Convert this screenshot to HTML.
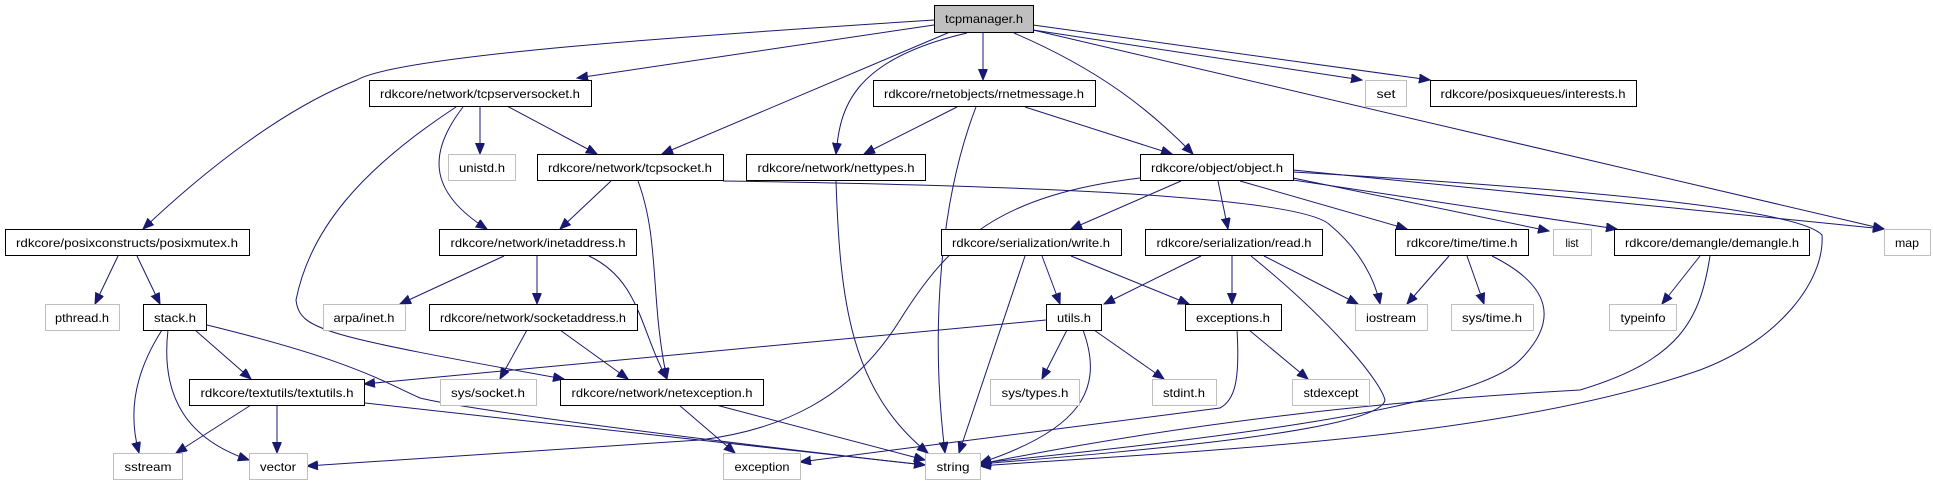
<!DOCTYPE html>
<html><head><meta charset="utf-8"><style>
html,body{margin:0;padding:0;background:#fff;}
svg{display:block;}
text{font-family:"Liberation Sans",sans-serif;font-size:12px;fill:#000;}
</style></head><body>
<svg width="1933" height="485" viewBox="0 0 1933 485" xmlns="http://www.w3.org/2000/svg">
<defs>
<marker id="a" markerUnits="userSpaceOnUse" markerWidth="12" markerHeight="10" refX="11" refY="4.5" orient="auto">
<path d="M0,0 L11,4.5 L0,9 z" fill="#191970" stroke="#191970"/>
</marker>
</defs>
<g fill="none" stroke="#191970" stroke-width="1" marker-end="url(#a)">
<path d="M934,20 C700,35 400,55 357,80 C280,110 200,175 143,229"/>
<path d="M934,25 L577,78"/>
<path d="M950,32 L662,154"/>
<path d="M967,33 C850,60 840,110 836,154"/>
<path d="M983,32 L983,80"/>
<path d="M1014,33 C1100,70 1150,110 1193,154"/>
<path d="M1033,30 L1362,80"/>
<path d="M1033,25 L1430,80"/>
<path d="M1033,30 L1884,229"/>
<path d="M480,106 L480,154"/>
<path d="M507,106 L597,154"/>
<path d="M463,107 C430,150 425,190 487,229"/>
<path d="M456,107 C360,170 310,230 296,300 C300,330 320,335 564,379"/>
<path d="M611,181 L560,229"/>
<path d="M638,181 C660,240 650,300 667,379"/>
<path d="M723,181 C1000,185 1300,195 1330,225 C1360,250 1375,280 1380,304"/>
<path d="M836,181 C840,300 850,390 928,453"/>
<path d="M957,107 L864,154"/>
<path d="M976,107 C940,200 930,330 945,453"/>
<path d="M1025,107 L1172,154"/>
<path d="M1140,178 C1000,195 950,240 900,320 C850,400 780,430 700,440 L307,466"/>
<path d="M1181,181 L1071,229"/>
<path d="M1218,181 L1228,229"/>
<path d="M1240,181 L1407,229"/>
<path d="M1293,178 L1549,231"/>
<path d="M1293,180 L1617,229"/>
<path d="M1293,170 L1884,229"/>
<path d="M1293,172 C1600,190 1800,210 1822,235 C1825,280 1780,340 1700,370 C1500,440 1200,450 980,466"/>
<path d="M1025,256 L959,453"/>
<path d="M1042,256 L1060,304"/>
<path d="M1071,256 L1189,304"/>
<path d="M1201,256 L1104,304"/>
<path d="M1232,256 L1232,304"/>
<path d="M1264,256 L1358,304"/>
<path d="M1251,256 C1330,320 1380,380 1385,400 C1380,430 1150,450 980,464"/>
<path d="M1046,320 L364,384"/>
<path d="M1067,330 L1042,379"/>
<path d="M1094,330 L1164,379"/>
<path d="M1083,330 C1105,390 1080,430 980,463"/>
<path d="M1249,330 L1308,379"/>
<path d="M1237,330 C1240,380 1235,400 1220,408 L800,462"/>
<path d="M1449,256 L1407,304"/>
<path d="M1467,256 L1484,304"/>
<path d="M1492,256 C1550,285 1560,320 1520,360 C1470,410 1200,440 980,463"/>
<path d="M1700,256 L1662,304"/>
<path d="M1710,256 C1700,320 1680,360 1580,390 C1400,400 1200,420 980,464"/>
<path d="M118,256 L95,304"/>
<path d="M137,256 L160,304"/>
<path d="M162,330 C130,380 130,420 139,453"/>
<path d="M168,330 C160,400 190,440 249,460"/>
<path d="M195,330 L251,379"/>
<path d="M207,325 C350,360 380,380 420,398 C470,410 700,440 925,465"/>
<path d="M504,256 L400,304"/>
<path d="M537,256 L537,304"/>
<path d="M589,256 C640,280 640,330 667,379"/>
<path d="M527,330 L500,379"/>
<path d="M560,330 L628,379"/>
<path d="M251,405 L176,453"/>
<path d="M277,405 L277,453"/>
<path d="M365,403 L925,465"/>
<path d="M679,405 L735,453"/>
<path d="M716,405 L925,460"/>
</g>
<g stroke-width="1">
<rect x="934.5" y="5.5" width="99" height="27" fill="#bfbfbf" stroke="#000"/>
<g fill="#fff" stroke="#000">
<rect x="369.5" y="80.5" width="222" height="26"/>
<rect x="873.5" y="80.5" width="222" height="26"/>
<rect x="1430.5" y="80.5" width="206" height="26"/>
<rect x="537.5" y="154.5" width="186" height="26"/>
<rect x="746.5" y="154.5" width="179" height="26"/>
<rect x="1140.5" y="154.5" width="153" height="26"/>
<rect x="5.5" y="229.5" width="244" height="26"/>
<rect x="439.5" y="229.5" width="197" height="26"/>
<rect x="941.5" y="229.5" width="180" height="26"/>
<rect x="1145.5" y="229.5" width="177" height="26"/>
<rect x="1395.5" y="229.5" width="133" height="26"/>
<rect x="1614.5" y="229.5" width="195" height="26"/>
<rect x="143.5" y="304.5" width="63" height="26"/>
<rect x="429.5" y="304.5" width="208" height="26"/>
<rect x="1046.5" y="304.5" width="55" height="26"/>
<rect x="1185.5" y="304.5" width="96" height="26"/>
<rect x="189.5" y="379.5" width="175" height="26"/>
<rect x="560.5" y="379.5" width="203" height="26"/>
</g>
<g fill="#fff" stroke="#bfbfbf">
<rect x="1365.5" y="80.5" width="41" height="26"/>
<rect x="448.5" y="154.5" width="67" height="26"/>
<rect x="1553.5" y="229.5" width="38" height="26"/>
<rect x="1884.5" y="229.5" width="46" height="26"/>
<rect x="45.5" y="304.5" width="74" height="26"/>
<rect x="323.5" y="304.5" width="82" height="26"/>
<rect x="1355.5" y="304.5" width="72" height="26"/>
<rect x="1451.5" y="304.5" width="82" height="26"/>
<rect x="1609.5" y="304.5" width="67" height="26"/>
<rect x="440.5" y="379.5" width="96" height="26"/>
<rect x="990.5" y="379.5" width="89" height="26"/>
<rect x="1152.5" y="379.5" width="64" height="26"/>
<rect x="1292.5" y="379.5" width="77" height="26"/>
<rect x="113.5" y="453.5" width="69" height="26"/>
<rect x="249.5" y="453.5" width="58" height="26"/>
<rect x="723.5" y="453.5" width="77" height="26"/>
<rect x="925.5" y="453.5" width="55" height="26"/>
</g>
</g>
<g text-anchor="middle">
<text x="984" y="23" textLength="78" lengthAdjust="spacingAndGlyphs">tcpmanager.h</text>
<text x="480" y="98" textLength="200" lengthAdjust="spacingAndGlyphs">rdkcore/network/tcpserversocket.h</text>
<text x="984" y="98" textLength="200" lengthAdjust="spacingAndGlyphs">rdkcore/rnetobjects/rnetmessage.h</text>
<text x="1386" y="98" textLength="19" lengthAdjust="spacingAndGlyphs">set</text>
<text x="1533" y="98" textLength="185" lengthAdjust="spacingAndGlyphs">rdkcore/posixqueues/interests.h</text>
<text x="482" y="172" textLength="46" lengthAdjust="spacingAndGlyphs">unistd.h</text>
<text x="630" y="172" textLength="164" lengthAdjust="spacingAndGlyphs">rdkcore/network/tcpsocket.h</text>
<text x="836" y="172" textLength="157" lengthAdjust="spacingAndGlyphs">rdkcore/network/nettypes.h</text>
<text x="1217" y="172" textLength="132" lengthAdjust="spacingAndGlyphs">rdkcore/object/object.h</text>
<text x="127" y="247" textLength="222" lengthAdjust="spacingAndGlyphs">rdkcore/posixconstructs/posixmutex.h</text>
<text x="538" y="247" textLength="175" lengthAdjust="spacingAndGlyphs">rdkcore/network/inetaddress.h</text>
<text x="1031" y="247" textLength="158" lengthAdjust="spacingAndGlyphs">rdkcore/serialization/write.h</text>
<text x="1234" y="247" textLength="155" lengthAdjust="spacingAndGlyphs">rdkcore/serialization/read.h</text>
<text x="1462" y="247" textLength="111" lengthAdjust="spacingAndGlyphs">rdkcore/time/time.h</text>
<text x="1572" y="247" textLength="13" lengthAdjust="spacingAndGlyphs">list</text>
<text x="1712" y="247" textLength="174" lengthAdjust="spacingAndGlyphs">rdkcore/demangle/demangle.h</text>
<text x="1907" y="247" textLength="24" lengthAdjust="spacingAndGlyphs">map</text>
<text x="82" y="322" textLength="54" lengthAdjust="spacingAndGlyphs">pthread.h</text>
<text x="175" y="322" textLength="42" lengthAdjust="spacingAndGlyphs">stack.h</text>
<text x="364" y="322" textLength="61" lengthAdjust="spacingAndGlyphs">arpa/inet.h</text>
<text x="533" y="322" textLength="186" lengthAdjust="spacingAndGlyphs">rdkcore/network/socketaddress.h</text>
<text x="1074" y="322" textLength="34" lengthAdjust="spacingAndGlyphs">utils.h</text>
<text x="1233" y="322" textLength="74" lengthAdjust="spacingAndGlyphs">exceptions.h</text>
<text x="1391" y="322" textLength="50" lengthAdjust="spacingAndGlyphs">iostream</text>
<text x="1492" y="322" textLength="60" lengthAdjust="spacingAndGlyphs">sys/time.h</text>
<text x="1643" y="322" textLength="45" lengthAdjust="spacingAndGlyphs">typeinfo</text>
<text x="277" y="397" textLength="153" lengthAdjust="spacingAndGlyphs">rdkcore/textutils/textutils.h</text>
<text x="488" y="397" textLength="74" lengthAdjust="spacingAndGlyphs">sys/socket.h</text>
<text x="662" y="397" textLength="181" lengthAdjust="spacingAndGlyphs">rdkcore/network/netexception.h</text>
<text x="1035" y="397" textLength="67" lengthAdjust="spacingAndGlyphs">sys/types.h</text>
<text x="1184" y="397" textLength="42" lengthAdjust="spacingAndGlyphs">stdint.h</text>
<text x="1331" y="397" textLength="55" lengthAdjust="spacingAndGlyphs">stdexcept</text>
<text x="148" y="471" textLength="47" lengthAdjust="spacingAndGlyphs">sstream</text>
<text x="278" y="471" textLength="36" lengthAdjust="spacingAndGlyphs">vector</text>
<text x="762" y="471" textLength="55" lengthAdjust="spacingAndGlyphs">exception</text>
<text x="953" y="471" textLength="33" lengthAdjust="spacingAndGlyphs">string</text>
</g>
</svg>
</body></html>
